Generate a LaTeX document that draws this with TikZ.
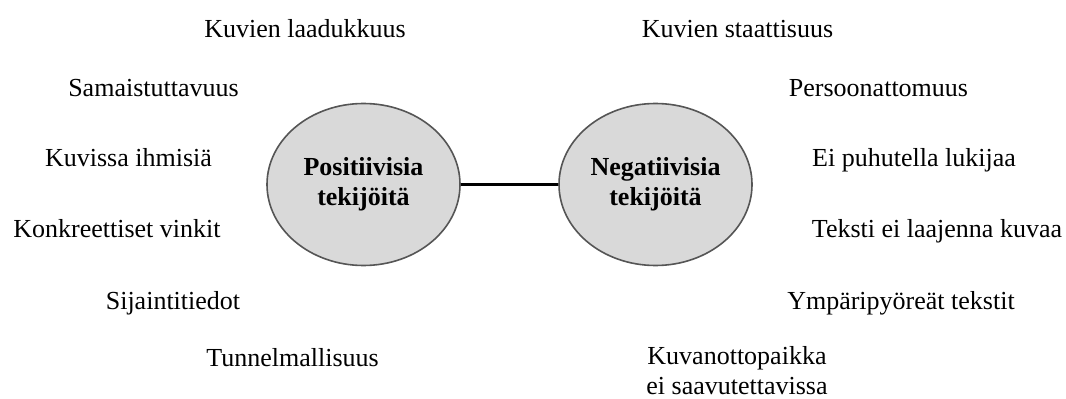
\documentclass[tikz,border=0pt]{standalone}
\usepackage{fontspec}
\setmainfont{Liberation Serif}
\usepackage{tikz}
\usetikzlibrary{shapes.geometric,positioning,calc}

\definecolor{ovalfill}{HTML}{D9D9D9}
\definecolor{ovalline}{HTML}{555555}

\tikzset{
    factor/.style={anchor=base, inner sep=0pt, font=\fontsize{19.5}{22.5}\selectfont},
    oval/.style={ellipse, draw=ovalline, fill=ovalfill, line width=1.2pt,
        minimum width=144.75pt, minimum height=121.5pt, inner sep=0pt,
        align=center, font=\fontsize{19.5}{22.5}\selectfont\bfseries}
}

\begin{document}
\begin{tikzpicture}[x=0.75pt,y=-0.75pt]
            \useasboundingbox (0,0) rectangle (1066,399);
            \coordinate (P) at (363.5,184.5);
            \coordinate (N) at (655.5,184.5);
            \node[oval] (pos) at (P) {Positiivisia\\tekijöitä};
            \node[oval] (neg) at (N) {Negatiivisia\\tekijöitä};
            \draw[black, line width=1.6pt] (pos) -- (neg);
            \node[factor] (p1) at (305,37.5) {Kuvien laadukkuus};
            \node[factor] (p2) at (153.5,96.5) {Samaistuttavuus};
            \node[factor] (p3) at (128.5,166.7) {Kuvissa ihmisiä};
            \node[factor] (p4) at (117,237.3) {Konkreettiset vinkit};
            \node[factor] (p5) at (173,309.3) {Sijaintitiedot};
            \node[factor] (p6) at (292.5,366.7) {Tunnelmallisuus};
            \node[factor] (n1) at (737.5,37.5) {Kuvien staattisuus};
            \node[factor] (n2) at (878.5,96.5) {Persoonattomuus};
            \node[factor] (n3) at (914,166.7) {Ei puhutella lukijaa};
            \node[factor] (n4) at (937,237.3) {Teksti ei laajenna kuvaa};
            \node[factor] (n5) at (901,309.3) {Ympäripyöreät tekstit};
            \node[factor, align=center] (n6) at (737,394.5) {Kuvanottopaikka\\ei saavutettavissa};
        \end{tikzpicture}
\end{document}
